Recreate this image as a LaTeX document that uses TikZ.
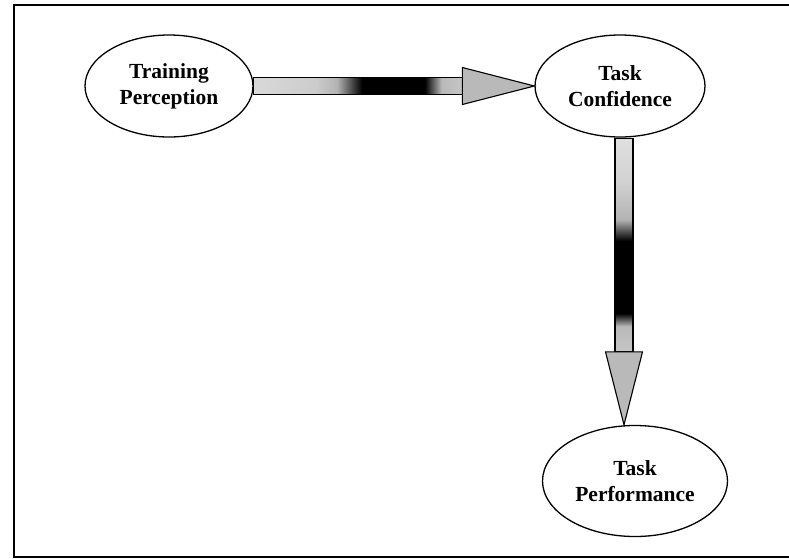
\documentclass[tikz,border=0pt]{standalone}
\usepackage{fontspec}
\setmainfont{Liberation Serif}
\usepackage{tikz}
\usetikzlibrary{shapes,calc}

\pgfdeclarehorizontalshading{shaftx}{100bp}{color(0bp)=(gray!30); color(25bp)=(gray!30); color(40bp)=(gray!40);
	color(45bp)=(gray!60); color(51bp)=(black); color(66bp)=(black); color(70bp)=(gray!55); color(75bp)=(gray!45); color(100bp)=(gray!45)}
\pgfdeclareverticalshading{shafty}{100bp}{color(0bp)=(gray!45); color(25bp)=(gray!45); color(31bp)=(gray!55);
	color(34bp)=(black); color(51bp)=(black); color(56bp)=(gray!60); color(65bp)=(gray!35); color(75bp)=(gray!25); color(100bp)=(gray!25)}

\begin{document}
\begin{tikzpicture}[x=1pt,y=-1pt,
	factor/.style={ellipse,draw,line width=1.3pt,inner sep=0pt,align=center,
		font=\fontsize{21.5}{26}\selectfont\bfseries},
	shaft/.style={draw,line width=1.1pt},
	head/.style={draw,line width=1.1pt,fill=gray!55,line join=miter}]
	\useasboundingbox (0,0) rectangle (789,558);
	\draw[line width=1.4pt] (800,5) -- (14,5) -- (14,557) -- (800,557);

	\node[factor,minimum width=168pt,minimum height=102pt] (train) at (169,86) {Training\\Perception};
	\node[factor,minimum width=170pt,minimum height=102pt] (conf) at (620,86) {Task\\Confidence};
	\node[factor,minimum width=185pt,minimum height=111pt] (perf) at (635,481) {Task\\Performance};

	% training -> confidence
	\shade[shaft,shading=shaftx]
		($(train.east)+(0,-8.5)$) rectangle ($(conf.west)+(-72,8.5)$);
	\draw[head] ($(conf.west)+(-72,-18.5)$) -- (conf.west) -- ($(conf.west)+(-72,18.5)$) -- cycle;

	% confidence -> performance
	\coordinate (tip) at (perf.north -| 624,0);
	\shade[shaft,shading=shafty]
		($(conf.south -| tip)+(-9,1)$) rectangle ($(tip)+(9,-73)$);
	\draw[head] ($(tip)+(-18.5,-73)$) -- (tip) -- ($(tip)+(18.5,-73)$) -- cycle;
\end{tikzpicture}
\end{document}
